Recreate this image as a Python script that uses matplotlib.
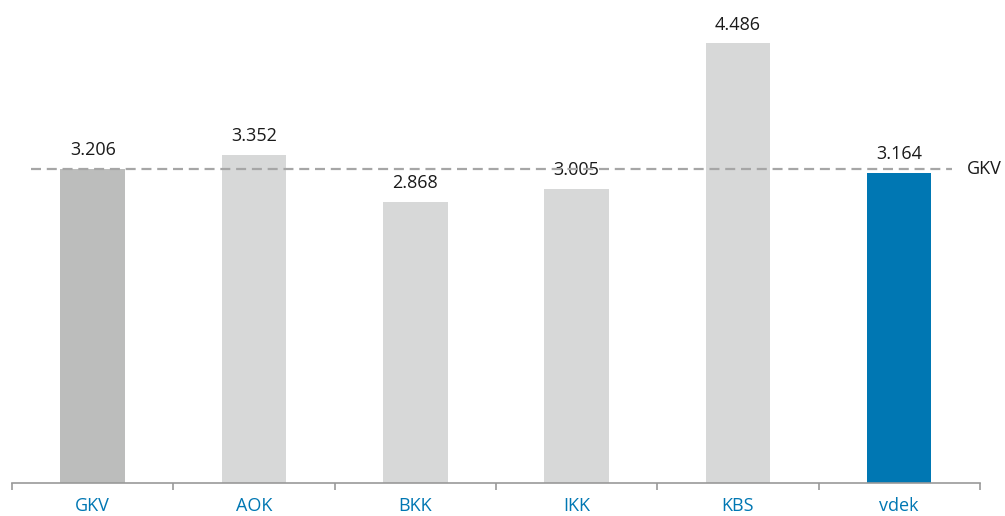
import matplotlib.pyplot as plt
import numpy as np

kassen = ['GKV', 'AOK', 'BKK', 'IKK', 'KBS', 'vdek']
werte = [3.206, 3.352, 2.868, 3.005, 4.486, 3.164]
farben = ['#bcbdbc', '#d7d8d8', '#d7d8d8', '#d7d8d8', '#d7d8d8', '#0077b3']
gkv_wert = werte[0]

plt.rcParams['font.family'] = ['Open Sans', 'DejaVu Sans']

fig = plt.figure(figsize=(10.05, 5.16), dpi=100)
ax = fig.add_axes([0.012, 0.064, 0.963, 0.936])

x = np.arange(len(kassen))
ax.bar(x, werte, width=0.4, color=farben, zorder=2)

for xi, w in zip(x, werte):
    ax.text(xi, w + 0.1, f'{w:.3f}', ha='center', va='bottom', fontsize=13, color='#1a1a1a')

# GKV-Referenzlinie
ax.plot([-0.38, 5.33], [gkv_wert, gkv_wert], ls=(0, (4.5, 2.6)), color='#a6a6a6', lw=1.6, zorder=3)
ax.text(5.42, gkv_wert, 'GKV', ha='left', va='center', fontsize=13, color='#1a1a1a')

ax.set_xlim(-0.5, 5.5)
ax.set_ylim(0, 4.93)
ax.set_yticks([])
ax.set_xticks(np.arange(-0.5, 6, 1))
ax.set_xticklabels([])
ax.set_xticks(x, minor=True)
ax.set_xticklabels(kassen, minor=True, color='#0077b3', fontsize=13)
ax.tick_params(axis='x', which='major', direction='out', length=5, color='#999999', width=1.2)
ax.tick_params(axis='x', which='minor', length=0, pad=10)
for s in ['top', 'right', 'left']:
    ax.spines[s].set_visible(False)
ax.spines['bottom'].set_color('#999999')
ax.spines['bottom'].set_linewidth(1.2)

fig.savefig('out.png', dpi=100)
